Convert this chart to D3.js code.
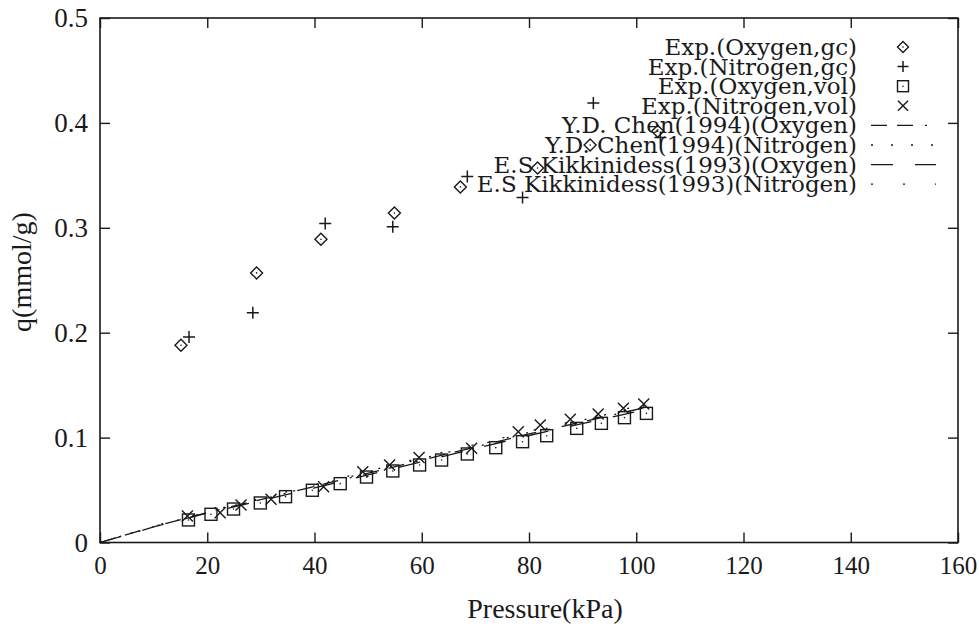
<!DOCTYPE html>
<html><head><meta charset="utf-8">
<script src="https://cdn.jsdelivr.net/npm/d3@7"></script>
<style>body{margin:0;background:#fff}</style>
</head><body>
<svg id="c" width="979" height="627"></svg>
<script>
// ---- data ----
const oxyGcP = [15.1, 29.2, 41.2, 54.9, 67.2, 81.6, 91.4, 104.0];
const oxyGcQ = [0.188, 0.257, 0.289, 0.314, 0.339, 0.357, 0.379, 0.392];
const nitGcP = [16.6, 28.5, 42.0, 54.6, 68.5, 78.8, 92.0, 104.5];
const nitGcQ = [0.196, 0.219, 0.304, 0.301, 0.349, 0.329, 0.419, 0.386];
const oxyVolP = [16.5, 20.7, 24.9, 29.9, 34.6, 39.6, 44.8, 49.7, 54.6, 59.6, 63.7, 68.5, 73.8, 78.8, 83.3, 88.9, 93.5, 97.8, 101.9];
const oxyVolQ = [0.0215, 0.0269, 0.0319, 0.0377, 0.0437, 0.0498, 0.0561, 0.0624, 0.0682, 0.0739, 0.0786, 0.0844, 0.0904, 0.0961, 0.1018, 0.1088, 0.1136, 0.119, 0.1231];
const nitVolP = [16.3, 22.4, 26.3, 31.9, 41.7, 49.0, 54.0, 59.5, 69.3, 78.0, 82.1, 87.7, 92.9, 97.6, 101.4];
const nitVolQ = [0.0253, 0.0284, 0.0357, 0.0412, 0.0532, 0.0675, 0.0739, 0.081, 0.0898, 0.1056, 0.112, 0.1174, 0.1225, 0.128, 0.132];
const modelP = [0, 10, 20, 40, 60, 80, 102];
const chenOxyQ = [0, 0.0150, 0.0285, 0.0535, 0.0785, 0.1035, 0.1290];
const chenNitQ = [0, 0.0152, 0.0290, 0.0540, 0.0800, 0.1050, 0.1310];
const kikOxyQ = [0, 0.0148, 0.0280, 0.0520, 0.0770, 0.1020, 0.1270];
const kikNitQ = [0, 0.0155, 0.0295, 0.0550, 0.0810, 0.1060, 0.1320];
const xTicks = [0, 20, 40, 60, 80, 100, 120, 140, 160];
const yTicks = [0, 0.1, 0.2, 0.3, 0.4, 0.5];
const yTickLabels = ["0", "0.1", "0.2", "0.3", "0.4", "0.5"];
const legendLabels = ["Exp.(Oxygen,gc)", "Exp.(Nitrogen,gc)", "Exp.(Oxygen,vol)", "Exp.(Nitrogen,vol)",
  "Y.D. Chen(1994)(Oxygen)", "Y.D. Chen(1994)(Nitrogen)", "E.S Kikkinidess(1993)(Oxygen)", "E.S Kikkinidess(1993)(Nitrogen)"];

// ---- drawing ----
const svg = d3.select("#c");
const ink = "#1a1a1a";
const x = d3.scaleLinear().domain([0, 160]).range([100, 958]);
const y = d3.scaleLinear().domain([0, 0.5]).range([542.5, 18]);
const tickFont = "'Liberation Serif', serif";

function styleAxis(size) {
  return g => {
    g.select(".domain").remove();
    g.selectAll("line").attr("stroke", ink).attr("stroke-width", 1.4);
    g.selectAll("text").attr("fill", ink).style("font-family", tickFont).style("font-size", size + "px");
  };
}
svg.append("g").attr("transform", `translate(0,${y(0)})`)
  .call(d3.axisBottom(x).tickValues(xTicks).tickSizeInner(-10).tickSizeOuter(0).tickPadding(14).tickFormat(d3.format("d")))
  .call(styleAxis(25));
svg.append("g").attr("transform", `translate(0,${y(0.5)})`)
  .call(d3.axisTop(x).tickValues(xTicks).tickSizeInner(-10).tickSizeOuter(0).tickFormat(""))
  .call(styleAxis(25));
svg.append("g").attr("transform", `translate(${x(0)},0)`)
  .call(d3.axisLeft(y).tickValues(yTicks).tickSizeInner(-10).tickSizeOuter(0).tickPadding(12).tickFormat((d, i) => yTickLabels[i]))
  .call(styleAxis(27));
svg.append("g").attr("transform", `translate(${x(160)},0)`)
  .call(d3.axisRight(y).tickValues(yTicks).tickSizeInner(-10).tickSizeOuter(0).tickFormat(""))
  .call(styleAxis(25));

// frame
svg.append("rect").attr("x", x(0)).attr("y", y(0.5)).attr("width", x(160) - x(0)).attr("height", y(0) - y(0.5))
  .attr("fill", "none").attr("stroke", ink).attr("stroke-width", 1.6);

// axis titles
svg.append("text").attr("x", 545).attr("y", 618).attr("text-anchor", "middle")
  .style("font-family", tickFont).style("font-size", "28px").attr("fill", ink).text("Pressure(kPa)");
svg.append("text").attr("transform", "translate(31,272) rotate(-90)").attr("text-anchor", "middle")
  .style("font-family", tickFont).style("font-size", "28px").attr("fill", ink).text("q(mmol/g)");

// model lines
const dashes = ["16,10,16,12,2,12", "2,18", "22,22", "2,30"];
const models = [chenOxyQ, chenNitQ, kikOxyQ, kikNitQ];
const line = d3.line().x(d => x(d[0])).y(d => y(d[1]));
models.forEach((q, i) => {
  svg.append("path").datum(modelP.map((p, j) => [p, q[j]])).attr("d", line)
    .attr("fill", "none").attr("stroke", ink).attr("stroke-width", 1.3).attr("stroke-dasharray", dashes[i]);
});

// markers
function marker(g, type, cx, cy, s) {
  s = s || 6;
  if (type === "diamond") {
    g.append("path").attr("d", `M${cx},${cy - s}L${cx + s},${cy}L${cx},${cy + s}L${cx - s},${cy}Z`)
      .attr("fill", "none").attr("stroke", ink).attr("stroke-width", 1.4);
    g.append("circle").attr("cx", cx).attr("cy", cy).attr("r", 0.8).attr("fill", ink);
  } else if (type === "plus") {
    g.append("path").attr("d", `M${cx - s},${cy}H${cx + s}M${cx},${cy - s}V${cy + s}`)
      .attr("stroke", ink).attr("stroke-width", 1.5);
  } else if (type === "square") {
    g.append("rect").attr("x", cx - s).attr("y", cy - s).attr("width", 2 * s).attr("height", 2 * s)
      .attr("fill", "none").attr("stroke", ink).attr("stroke-width", 1.4);
    g.append("circle").attr("cx", cx).attr("cy", cy).attr("r", 0.8).attr("fill", ink);
  } else {
    const c = s * 0.92;
    g.append("path").attr("d", `M${cx - c},${cy - c}L${cx + c},${cy + c}M${cx - c},${cy + c}L${cx + c},${cy - c}`)
      .attr("stroke", ink).attr("stroke-width", 1.4);
  }
}
const series = [[oxyGcP, oxyGcQ, "diamond"], [nitGcP, nitGcQ, "plus"], [oxyVolP, oxyVolQ, "square"], [nitVolP, nitVolQ, "cross"]];
const mg = svg.append("g");
series.forEach(([P, Q, t]) => P.forEach((p, i) => marker(mg, t, x(p), y(Q[i]))));

// legend
const lg = svg.append("g");
const rowY0 = 47, rowDy = 19.6;
legendLabels.forEach((lab, i) => {
  const cy = rowY0 + i * rowDy;
  lg.append("text").attr("x", 857).attr("y", cy).attr("dy", "0.35em").attr("text-anchor", "end")
    .style("font-family", "'DejaVu Serif', serif").style("font-size", "23px").attr("fill", ink).text(lab);
  if (i < 4) marker(lg, series[i][2], 903, cy, 5.5);
  else lg.append("line").attr("x1", 871).attr("x2", 936).attr("y1", cy).attr("y2", cy)
    .attr("stroke", ink).attr("stroke-width", 1.3).attr("stroke-dasharray", dashes[i - 4]);
});
</script>
</body></html>
